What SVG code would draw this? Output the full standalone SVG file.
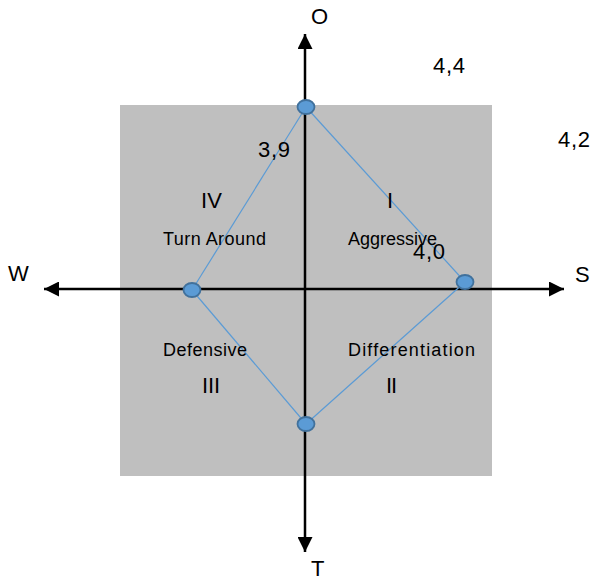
<svg xmlns="http://www.w3.org/2000/svg" width="592" height="578" viewBox="0 0 592 578">
<style>
text{font-family:"Liberation Sans",Arial,sans-serif;fill:#000}
.lbl{font-size:18px}
.num{font-size:22px}
.rom{font-size:22px}
.axis{stroke:#000;stroke-width:2.5;fill:none}
.edge{stroke:#5b9bd5;stroke-width:1.2;fill:none}
.pt{fill:#5b9bd5;stroke:#41719c;stroke-width:1.8}
</style>
<defs>
<marker id="ah" viewBox="0 0 10 10" refX="10" refY="5" markerWidth="6" markerHeight="6" markerUnits="strokeWidth" orient="auto">
<path d="M0,0 L10,5 L0,10 z" fill="#000"/>
</marker>
</defs>
<rect id="bg" x="120" y="105" width="372" height="371" fill="#bfbfbf"/>
<g id="connectors">
<line class="axis" x1="305" y1="289" x2="305" y2="34" marker-end="url(#ah)"/>
<line class="axis" x1="305" y1="289" x2="305" y2="552" marker-end="url(#ah)"/>
<line class="axis" x1="305" y1="289" x2="44" y2="289" marker-end="url(#ah)"/>
<line class="axis" x1="305" y1="289" x2="564" y2="289" marker-end="url(#ah)"/>
<line class="edge" x1="306" y1="107" x2="465" y2="282"/>
<line class="edge" x1="306" y1="107" x2="192" y2="290"/>
<line class="edge" x1="192" y1="290" x2="306" y2="424"/>
<line class="edge" x1="306" y1="424" x2="465" y2="282"/>
</g>
<g id="node-top"><ellipse class="pt" cx="306" cy="107" rx="8.5" ry="7"/></g>
<g id="node-left"><ellipse class="pt" cx="192" cy="290" rx="8.5" ry="7"/></g>
<g id="node-right"><ellipse class="pt" cx="465" cy="282" rx="8.5" ry="7"/></g>
<g id="node-bottom"><ellipse class="pt" cx="306" cy="424" rx="8.5" ry="7"/></g>
<g id="axis-labels">
<text class="num" x="311" y="24">O</text>
<text class="num" x="8" y="281">W</text>
<text class="num" x="575" y="282">S</text>
<text class="num" x="311" y="576">T</text>
</g>
<g id="values">
<text class="num" x="433" y="73" textLength="32" lengthAdjust="spacing">4,4</text>
<text class="num" x="558" y="147" textLength="32" lengthAdjust="spacing">4,2</text>
<text class="num" x="258" y="157" textLength="32" lengthAdjust="spacing">3,9</text>
<text class="num" x="413" y="259" textLength="32" lengthAdjust="spacing">4,0</text>
</g>
<g id="quadrants">
<text class="rom" x="387" y="208">I</text>
<text class="rom" x="201" y="208" textLength="21" lengthAdjust="spacing">IV</text>
<text class="rom" x="202" y="393" textLength="18" lengthAdjust="spacing">III</text>
<text class="rom" x="386" y="393" textLength="11" lengthAdjust="spacing">II</text>
<text class="lbl" x="163" y="245" textLength="103" lengthAdjust="spacing">Turn Around</text>
<text class="lbl" x="348" y="245" textLength="89" lengthAdjust="spacing">Aggressive</text>
<text class="lbl" x="163" y="356" textLength="84" lengthAdjust="spacing">Defensive</text>
<text class="lbl" x="348" y="356" textLength="127" lengthAdjust="spacing">Differentiation</text>
</g>
</svg>
